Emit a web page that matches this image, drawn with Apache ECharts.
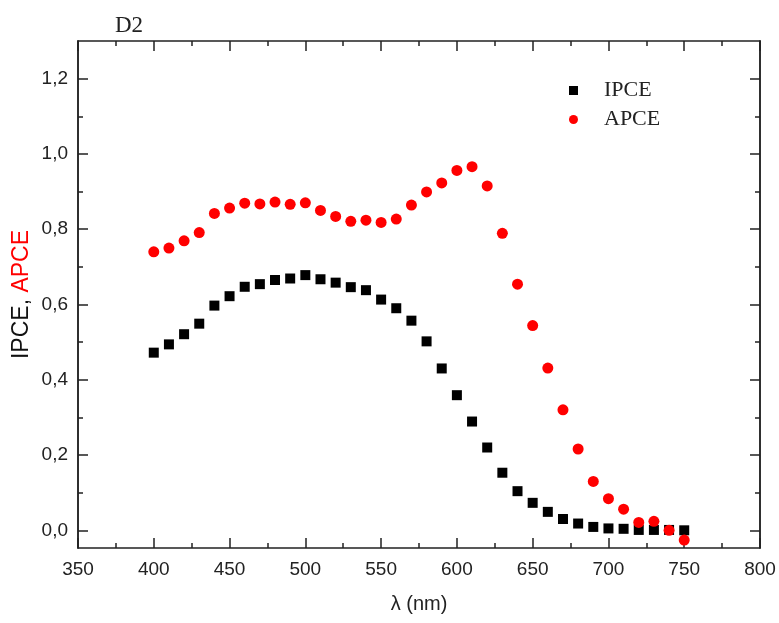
<!DOCTYPE html>
<html>
<head>
<meta charset="utf-8">
<script src="https://cdn.jsdelivr.net/npm/echarts@6/dist/echarts.min.js"></script>
<style>
html,body{margin:0;padding:0;background:#fff;}
#chart{width:779px;height:623px;}
</style>
</head>
<body>
<div id="chart"></div>
<script>
var wavelengths = [400,410,420,430,440,450,460,470,480,490,500,510,520,530,540,550,560,570,580,590,600,610,620,630,640,650,660,670,680,690,700,710,720,730,740,750];
var ipce = [0.472,0.494,0.521,0.549,0.597,0.622,0.647,0.654,0.665,0.669,0.678,0.667,0.658,0.646,0.638,0.613,0.590,0.557,0.502,0.430,0.359,0.289,0.220,0.153,0.104,0.073,0.049,0.030,0.018,0.009,0.005,0.004,0.001,0.001,0.001,0.000];
var apce = [0.740,0.750,0.769,0.791,0.842,0.856,0.869,0.867,0.872,0.866,0.870,0.850,0.834,0.821,0.824,0.818,0.827,0.864,0.899,0.923,0.956,0.966,0.915,0.789,0.654,0.544,0.431,0.320,0.216,0.130,0.084,0.056,0.021,0.024,0.000,-0.026];
var yMajorTicks = [0,0.2,0.4,0.6,0.8,1.0,1.2];
var yMinorTicks = [0.1,0.3,0.5,0.7,0.9,1.1];

var axisColor = '#222';
var yMin = -0.047, yMax = 1.3;
var sans = 'Liberation Sans, Arial, sans-serif';
var serif = 'Liberation Serif, Times New Roman, serif';

function pairs(xs, ys){ return xs.map(function(x,i){ return [x, ys[i]]; }); }
function yFmt(v){ return v.toFixed(1).replace('.', ','); }

function yAx(pos, vals, len, labels, extra){
  var a = {
    type:'value', position:pos, min:yMin, max:yMax,
    axisLine:{show:true, onZero:false, lineStyle:{color:axisColor, width:1.5}},
    axisTick:{show:true, inside:true, length:len, customValues:vals, lineStyle:{color:axisColor, width:1.5}},
    axisLabel:labels ? {show:true, customValues:yMajorTicks, formatter:yFmt, fontSize:19, color:'#222', fontFamily:sans, margin:10} : {show:false},
    splitLine:{show:false}
  };
  if (extra) for (var k in extra) a[k] = extra[k];
  return a;
}

var chart = echarts.init(document.getElementById('chart'), null, {renderer:'canvas'});
chart.setOption({
  animation:false,
  backgroundColor:'#fff',
  title:{text:'D2', left:110, top:9, textStyle:{fontFamily:serif, fontSize:23, fontWeight:'normal', color:'#222'}},
  legend:{
    orient:'vertical', left:564, top:74, itemGap:6, itemWidth:9, itemHeight:9,
    data:[{name:'IPCE', icon:'rect'},{name:'APCE', icon:'circle'}],
    textStyle:{fontFamily:serif, fontSize:22, color:'#222', lineHeight:23, padding:[0,0,0,21]}
  },
  grid:{left:78, right:19, top:41, bottom:75, containLabel:false},
  xAxis:[
    {type:'value', position:'bottom', min:350, max:800, interval:50,
     name:'λ (nm)', nameLocation:'middle', nameGap:46, nameMoveOverlap:false,
     nameTextStyle:{fontFamily:sans, fontSize:20, color:'#222'},
     axisLine:{show:true, onZero:false, lineStyle:{color:axisColor, width:1.5}},
     axisTick:{show:true, inside:true, length:10, lineStyle:{color:axisColor, width:1.5}},
     minorTick:{show:true, splitNumber:2, length:5, lineStyle:{color:axisColor, width:1.5}},
     axisLabel:{fontSize:19, color:'#222', fontFamily:sans, margin:12},
     splitLine:{show:false}, minorSplitLine:{show:false}},
    {type:'value', position:'top', min:350, max:800, interval:50,
     axisLine:{show:true, onZero:false, lineStyle:{color:axisColor, width:1.5}},
     axisTick:{show:true, inside:true, length:10, lineStyle:{color:axisColor, width:1.5}},
     minorTick:{show:true, splitNumber:2, length:5, lineStyle:{color:axisColor, width:1.5}},
     axisLabel:{show:false}, splitLine:{show:false}, minorSplitLine:{show:false}}
  ],
  yAxis:[
    yAx('left', yMajorTicks, 10, true, {
      name:'{a|IPCE, }{b|APCE}', nameLocation:'middle', nameGap:45, nameMoveOverlap:false,
      nameTextStyle:{fontFamily:sans, fontSize:23, color:'#111',
        rich:{a:{fontFamily:sans, fontSize:23, color:'#111'}, b:{fontFamily:sans, fontSize:23, color:'#ff0000'}}}
    }),
    yAx('left', yMinorTicks, 5, false),
    yAx('right', yMajorTicks, 10, false),
    yAx('right', yMinorTicks, 5, false)
  ],
  series:[
    {name:'IPCE', type:'scatter', xAxisIndex:0, yAxisIndex:0, symbol:'rect', symbolSize:10,
     itemStyle:{color:'#000', opacity:1}, data:pairs(wavelengths, ipce), z:2},
    {name:'APCE', type:'scatter', xAxisIndex:0, yAxisIndex:0, symbol:'circle', symbolSize:11,
     itemStyle:{color:'#ff0000', opacity:1}, data:pairs(wavelengths, apce), z:3}
  ]
});
</script>
</body>
</html>
